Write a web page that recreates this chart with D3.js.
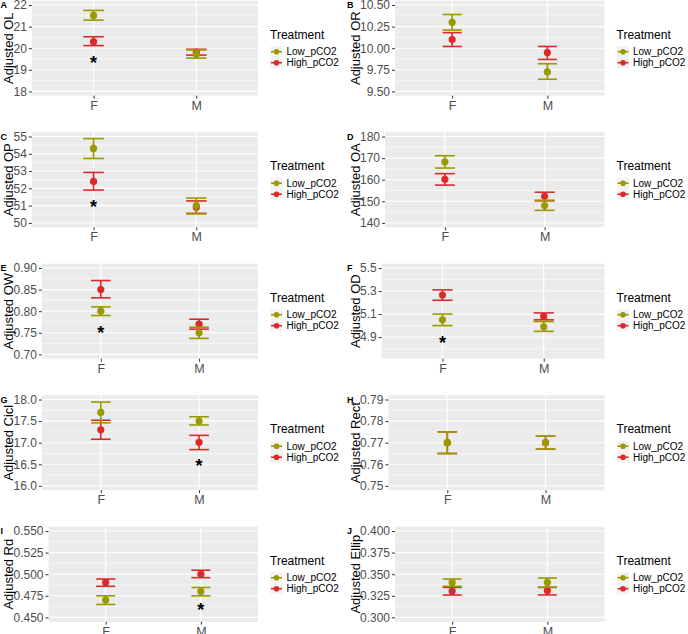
<!DOCTYPE html>
<html>
<head>
<meta charset="utf-8">
<script src="https://cdn.jsdelivr.net/npm/d3@7"></script>
<style>
  html, body { margin: 0; padding: 0; background: #fff; }
  svg { display: block; font-family: "Liberation Sans", Arial, Helvetica, sans-serif; }
</style>
</head>
<body>
<svg id="chart" width="688" height="634"></svg>
<script>
// ---------------- DATA ----------------
const letters = ["A","B","C","D","E","F","G","H","I","J"];
const traits = ["OL","OR","OP","OA","OW","OD","Cicl","Rect","Rd","Ellip"];
const sexes = ["F","M"];
const treatments = ["Low_pCO2","High_pCO2"];
const treatmentColors = ["#999900","#DB2A2A"];

const yLimits = [[18,22],[9.5,10.5],[50,55],[140,180],[0.70,0.90],[4.75,5.5],[16,18],[0.75,0.79],[0.45,0.55],[0.30,0.40]];
const yTicks = [
  [18,19,20,21,22],
  [9.5,9.75,10,10.25,10.5],
  [50,51,52,53,54,55],
  [140,150,160,170,180],
  [0.70,0.75,0.80,0.85,0.90],
  [4.9,5.1,5.3,5.5],
  [16,16.5,17,17.5,18],
  [0.75,0.76,0.77,0.78,0.79],
  [0.45,0.475,0.5,0.525,0.55],
  [0.30,0.325,0.35,0.375,0.40]
];
const yTickLabels = [
  ["18","19","20","21","22"],
  ["9.50","9.75","10.00","10.25","10.50"],
  ["50","51","52","53","54","55"],
  ["140","150","160","170","180"],
  ["0.70","0.75","0.80","0.85","0.90"],
  ["4.9","5.1","5.3","5.5"],
  ["16.0","16.5","17.0","17.5","18.0"],
  ["0.75","0.76","0.77","0.78","0.79"],
  ["0.450","0.475","0.500","0.525","0.550"],
  ["0.300","0.325","0.350","0.375","0.400"]
];

// values per panel: [F, M]
const lowMean  = [[21.52,19.72],[10.30,9.725],[54.31,51.00],[168.3,148.0],[0.800,0.750],[5.05,4.99],[17.70,17.50],[0.770,0.770],[0.470,0.480],[0.3405,0.3405]];
const lowLower = [[21.30,19.54],[10.21,9.64],[53.73,50.52],[165.4,145.8],[0.790,0.737],[5.00,4.95],[17.46,17.41],[0.765,0.767],[0.465,0.475],[0.336,0.335]];
const lowUpper = [[21.75,19.92],[10.39,9.82],[54.88,51.44],[171.1,150.5],[0.810,0.763],[5.10,5.035],[17.94,17.60],[0.775,0.773],[0.475,0.4846],[0.3444,0.3456]];
const highMean  = [[20.30,19.82],[10.10,9.95],[52.40,50.90],[160.2,152.3],[0.850,0.770],[5.265,5.08],[17.30,17.01],[0.770,0.770],[0.4905,0.500],[0.3305,0.3309]];
const highLower = [[20.12,19.68],[10.02,9.87],[51.90,50.55],[157.5,150.2],[0.831,0.7585],[5.22,5.05],[17.08,16.84],[0.765,0.767],[0.486,0.496],[0.3259,0.326]];
const highUpper = [[20.53,19.95],[10.18,10.02],[52.92,51.27],[162.8,154.2],[0.871,0.7815],[5.31,5.11],[17.52,17.17],[0.775,0.773],[0.4944,0.5046],[0.3347,0.3347]];

// significance asterisks: [sex, y value] or null
const stars = [["F",19.53],null,["F",51.19],null,["F",0.760],["F",4.89],["M",16.55],null,["M",0.4635],null];

// ---------------- DRAW ----------------
const svg = d3.select("#chart");
const cellW = 346.5, cellH = 131.5, plotH = 95;
const tickFont = 12, titleFont = 13;

// text measurement helper
const meas = svg.append("text").attr("font-size", tickFont).attr("visibility","hidden");
function textW(s){ meas.text(s); return meas.node().getComputedTextLength(); }

letters.forEach((letter, i) => {
  const col = i % 2, row = Math.floor(i / 2);
  const cellX = col * cellW, cellY = row * cellH;
  const top = cellY + 0.7, bottom = top + plotH;
  const maxW = d3.max(yTickLabels[i], textW);
  const left = cellX + 13.5 + maxW + 5;
  const right = cellX + 258;

  const lim = yLimits[i];
  const pad = (lim[1] - lim[0]) * 0.05;
  const y = d3.scaleLinear().domain([lim[0] - pad, lim[1] + pad]).range([bottom, top]);
  const x = d3.scaleLinear().domain([0.4, 2.6]).range([left, right]);
  const xs = d => x(sexes.indexOf(d) + 1);

  const g = svg.append("g");

  // panel background
  g.append("rect").attr("x", left).attr("y", top).attr("width", right - left).attr("height", plotH).attr("fill", "#EBEBEB");

  // minor gridlines
  const tk = yTicks[i];
  const step = tk[1] - tk[0];
  const dom = y.domain();
  const minors = [];
  for (let k = -1; k < tk.length; k++) {
    const v = (k < 0 ? tk[0] - step / 2 : tk[k] + step / 2);
    if (v > dom[0] && v < dom[1]) minors.push(v);
  }
  g.selectAll(".minor").data(minors).join("line")
    .attr("x1", left).attr("x2", right)
    .attr("y1", d => y(d)).attr("y2", d => y(d))
    .attr("stroke", "#fff").attr("stroke-width", 0.55);
  // major gridlines
  g.selectAll(".major").data(tk).join("line")
    .attr("x1", left).attr("x2", right)
    .attr("y1", d => y(d)).attr("y2", d => y(d))
    .attr("stroke", "#fff").attr("stroke-width", 1.1);
  g.selectAll(".vmajor").data(sexes).join("line")
    .attr("x1", xs).attr("x2", xs)
    .attr("y1", top).attr("y2", bottom)
    .attr("stroke", "#fff").attr("stroke-width", 1.1);

  // y axis
  const yAxis = d3.axisLeft(y).tickValues(tk).tickFormat((d, j) => yTickLabels[i][j]).tickSize(3).tickPadding(2);
  const ya = g.append("g").attr("transform", `translate(${left},0)`).call(yAxis)
    .attr("font-family", null).attr("font-size", tickFont);
  ya.select(".domain").remove();
  ya.selectAll(".tick line").attr("stroke", "#333").attr("stroke-width", 1);
  ya.selectAll(".tick text").attr("fill", "#4D4D4D");

  // x axis
  const xBand = d3.scaleOrdinal().domain(sexes).range(sexes.map(xs));
  const xAxis = d3.axisBottom(xBand).tickSize(3).tickPadding(2);
  const xa = g.append("g").attr("transform", `translate(0,${bottom})`).call(xAxis)
    .attr("font-family", null).attr("font-size", tickFont + 0.5);
  xa.select(".domain").remove();
  xa.selectAll(".tick line").attr("stroke", "#333").attr("stroke-width", 1);
  xa.selectAll(".tick text").attr("fill", "#4D4D4D");

  // y title
  g.append("text")
    .attr("transform", `translate(${cellX + 8.5},${(top + bottom) / 2}) rotate(-90)`)
    .attr("text-anchor", "middle").attr("dominant-baseline", "central")
    .attr("font-size", titleFont).attr("fill", "#000")
    .text("Adjusted " + traits[i]);

  // panel letter
  g.append("text").attr("x", cellX + 0.5).attr("y", top + 7.5)
    .attr("font-size", 9).attr("font-weight", "bold").attr("fill", "#000").text(letter);

  // series: draw High first, Low on top
  const series = [
    {name: treatments[1], color: treatmentColors[1], m: highMean[i], lo: highLower[i], hi: highUpper[i]},
    {name: treatments[0], color: treatmentColors[0], m: lowMean[i], lo: lowLower[i], hi: lowUpper[i]}
  ];
  const capHalf = (x(1.1) - x(0.9)) / 2;
  series.forEach(s => {
    const pts = sexes.map((sx, j) => ({sx, m: s.m[j], lo: s.lo[j], hi: s.hi[j]}));
    const sg = g.append("g");
    sg.selectAll(".v").data(pts).join("line")
      .attr("x1", d => xs(d.sx)).attr("x2", d => xs(d.sx))
      .attr("y1", d => y(d.lo)).attr("y2", d => y(d.hi))
      .attr("stroke", s.color).attr("stroke-width", 1.6);
    sg.selectAll(".ct").data(pts).join("line")
      .attr("x1", d => xs(d.sx) - capHalf).attr("x2", d => xs(d.sx) + capHalf)
      .attr("y1", d => y(d.hi)).attr("y2", d => y(d.hi))
      .attr("stroke", s.color).attr("stroke-width", 1.6);
    sg.selectAll(".cb").data(pts).join("line")
      .attr("x1", d => xs(d.sx) - capHalf).attr("x2", d => xs(d.sx) + capHalf)
      .attr("y1", d => y(d.lo)).attr("y2", d => y(d.lo))
      .attr("stroke", s.color).attr("stroke-width", 1.6);
    sg.selectAll("circle").data(pts).join("circle")
      .attr("cx", d => xs(d.sx)).attr("cy", d => y(d.m)).attr("r", 3.6)
      .attr("fill", s.color);
  });

  // asterisk
  if (stars[i]) {
    const fs = 18;
    g.append("text").attr("x", xs(stars[i][0])).attr("y", y(stars[i][1]) + 0.57 * fs)
      .attr("text-anchor", "middle").attr("font-size", fs).attr("font-weight", "bold")
      .attr("fill", "#000").text("*");
  }

  // legend
  const lg = g.append("g");
  lg.append("text").attr("x", cellX + 270).attr("y", top + 38)
    .attr("font-size", 12).attr("fill", "#000").text("Treatment");
  treatments.forEach((t, j) => {
    const ky = top + 51 + j * 11;
    const kx = cellX + 276.5;
    lg.append("rect").attr("x", kx - 6).attr("y", ky - 5.5).attr("width", 12).attr("height", 11).attr("fill", "#F2F2F2");
    lg.append("line").attr("x1", kx - 5.5).attr("x2", kx + 5.5).attr("y1", ky).attr("y2", ky)
      .attr("stroke", treatmentColors[j]).attr("stroke-width", 1.6);
    lg.append("circle").attr("cx", kx).attr("cy", ky).attr("r", 2.8).attr("fill", treatmentColors[j]);
    lg.append("text").attr("x", cellX + 286.5).attr("y", ky).attr("dominant-baseline", "central")
      .attr("font-size", 10).attr("fill", "#000").text(t);
  });
});
meas.remove();
</script>
</body>
</html>
